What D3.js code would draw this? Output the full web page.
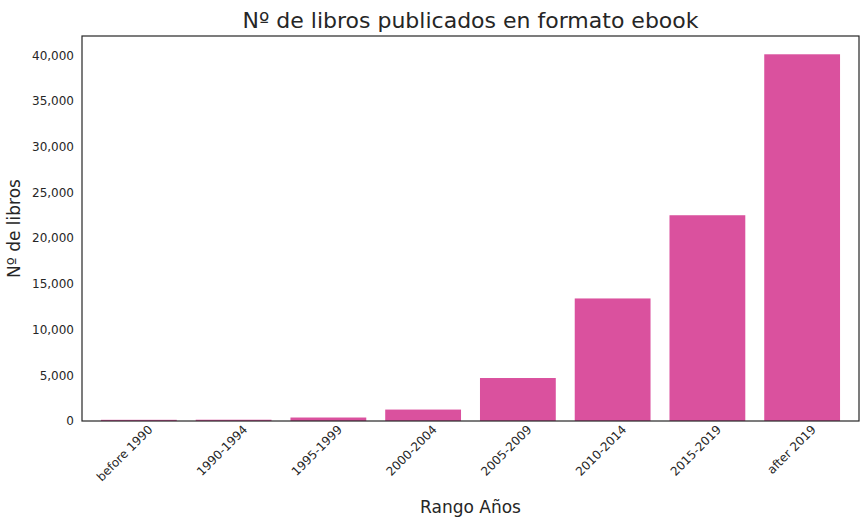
<!DOCTYPE html>
<html>
<head>
<script src="https://d3js.org/d3.v7.min.js"></script>
<style>
body { margin: 0; background: #fff; }
text { font-family: "DejaVu Sans", sans-serif; fill: #262626; }
</style>
</head>
<body>
<div id="svg"></div>
<script>
var categories = ["before 1990", "1990-1994", "1995-1999", "2000-2004", "2005-2009", "2010-2014", "2015-2019", "after 2019"];
var values = [130, 140, 380, 1250, 4700, 13400, 22500, 40100];
var yTicks = [0, 5000, 10000, 15000, 20000, 25000, 30000, 35000, 40000];

var margin = { top: 36, right: 8, bottom: 106, left: 82 },
    width = 867 - margin.left - margin.right,
    height = 527 - margin.top - margin.bottom;

var svg = d3.select("#svg").append("svg")
    .attr("width", 867).attr("height", 527)
    .append("g")
    .attr("transform", "translate(" + margin.left + "," + margin.top + ")");

var x = d3.scaleBand().domain(categories).range([0, width]).padding(0.2);
var y = d3.scaleLinear().domain([0, 42100]).range([height, 0]);

svg.selectAll("rect").data(values).enter().append("rect")
    .attr("x", function (d, i) { return x(categories[i]); })
    .attr("y", function (d) { return y(d); })
    .attr("width", x.bandwidth())
    .attr("height", function (d) { return height - y(d); })
    .style("fill", "#da519e");

var ya = svg.append("g").call(d3.axisLeft(y).tickValues(yTicks).tickSize(0).tickPadding(8));
ya.selectAll("text").style("font-size", "12px");
ya.select(".domain").remove();

var xa = svg.append("g").attr("transform", "translate(0," + height + ")")
    .call(d3.axisBottom(x).tickSize(0).tickPadding(6));
xa.select(".domain").remove();
xa.selectAll("text").style("font-size", "12px")
    .attr("text-anchor", "end")
    .attr("dx", "0.3em").attr("dy", "0.9em")
    .attr("transform", "rotate(-45)");

svg.append("rect").attr("width", width).attr("height", height)
    .style("fill", "none").style("stroke", "#262626").style("stroke-width", 1.2);

svg.append("text").attr("x", width / 2).attr("y", -8).attr("text-anchor", "middle")
    .style("font-size", "22px").text("Nº de libros publicados en formato ebook");
svg.append("text").attr("x", width / 2).attr("y", height + 92).attr("text-anchor", "middle")
    .style("font-size", "17px").text("Rango Años");
svg.append("text").attr("transform", "rotate(-90)").attr("x", -height / 2).attr("y", -62)
    .attr("text-anchor", "middle").style("font-size", "17px").text("Nº de libros");
</script>
</body>
</html>
